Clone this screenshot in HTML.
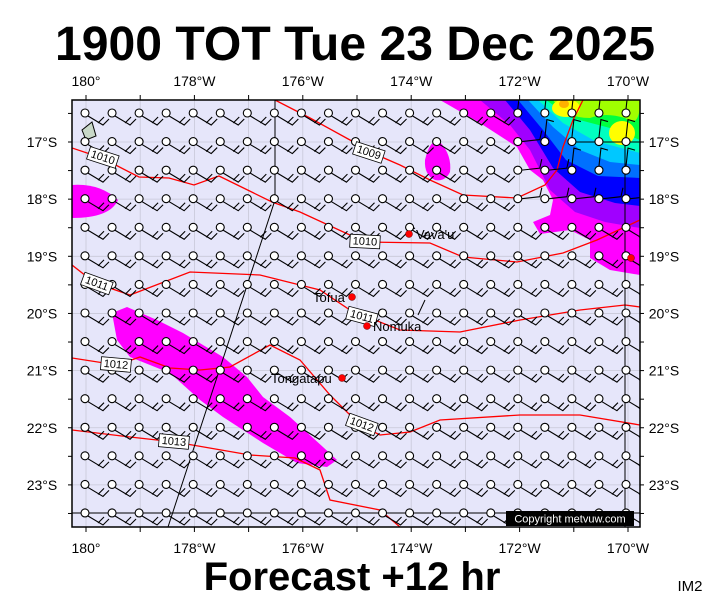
<!DOCTYPE html>
<html><head><meta charset="utf-8"><style>
html,body{margin:0;padding:0;background:#fff;}
svg{display:block;font-family:"Liberation Sans",sans-serif;}
</style></head><body>
<svg id="s" width="711" height="600" viewBox="0 0 711 600" xmlns="http://www.w3.org/2000/svg">
<text x="355" y="60" text-anchor="middle" font-size="48" font-weight="bold" textLength="600" lengthAdjust="spacingAndGlyphs">1900 TOT Tue 23 Dec 2025</text>
<text x="352" y="590" text-anchor="middle" font-size="40" font-weight="bold">Forecast +12 hr</text>
<text x="690" y="591" text-anchor="middle" font-size="15">IM2</text>
<defs><clipPath id="c"><rect x="72" y="100" width="568" height="427"/></clipPath></defs>
<rect x="72" y="100" width="568" height="427" fill="#e6e6fa"/>
<g id="grid" stroke="#c8c8d8" stroke-width="0.8"></g>
<g clip-path="url(#c)">
<path fill="#ff00ff" d="M72,185 Q100,183 118,200 Q110,218 72,218Z"/>
<path fill="#ff00ff" d="M425,160 Q430,138 440,142 Q452,155 450,172 Q445,182 435,180 Q424,175 425,160Z"/>
<path fill="#ff00ff" d="M112,313 L127,307 L157,320 L183,333 L223,357 L247,377 L263,397 L290,417 L323,447 L337,460 L327,467 L297,463 L263,443 L223,417 L200,400 L170,373 L130,357 L117,340Z"/>
<path fill="#ff00ff" d="M440,100 L480,123 L517,147 L530,170 L543,180 L553,200 L550,215 L533,222 L540,234 L570,230 L590,240 L590,258 L610,270 L640,275 L640,100Z"/>
<path fill="#a000ff" d="M480,100 L510,125 L530,150 L550,190 L575,212 L605,222 L640,228 L640,100Z"/>
<path fill="#0000ff" d="M505,100 L530,130 L553,168 L580,192 L615,203 L640,206 L640,100Z"/>
<path fill="#0070ff" d="M518,100 L543,130 L566,160 L598,176 L640,178 L640,100Z"/>
<path fill="#00c8ff" d="M528,100 L553,127 L580,150 L610,162 L640,165 L640,100Z"/>
<path fill="#00ffc0" d="M538,100 L563,123 L595,141 L640,153 L640,100Z"/>
<path fill="#00ff40" d="M546,100 L572,118 L610,128 L640,140 L640,100Z"/>
<path fill="#a0ff00" d="M553,100 Q565,118 590,118 Q605,112 625,118 Q640,130 640,100Z"/>
<ellipse cx="566" cy="108" rx="14" ry="9" fill="#ffff00"/>
<ellipse cx="622" cy="133" rx="13" ry="12" fill="#ffff00"/>
<ellipse cx="564" cy="104" rx="5" ry="4" fill="#ffb000"/>
<g fill="none" stroke="#f00" stroke-width="1.3">
<path d="M275,100 L310,118 L350,140 L370,152 L400,165 L430,180 L463,195 L517,198 L545,185 L557,170 L563,147 L573,120 L583,100"/>
<path d="M72,148 L102,158 L139,177 L169,178 L194,185 L219,176 L272,202 L300,212 L365,242 L430,243 L463,257 L517,262 L563,253 L597,240 L640,220"/>
<path d="M72,265 L95,283 L130,295 L190,272 L260,275 L320,290 L350,310 L400,330 L460,332 L520,320 L580,310 L625,305 L640,307"/>
<path d="M72,358 L117,365 L140,357 L170,368 L200,370 L230,367 L270,345 L300,360 L330,395 L360,425 L380,435 L410,432 L440,420 L520,415 L580,415 L640,425"/>
<path d="M72,430 L130,437 L175,442 L250,455 L295,458 L320,470 L330,500 L380,510 L400,527"/>
</g>
<g fill="none" stroke="#000" stroke-width="1">
<path d="M275,100 L275,200 L168,527"/>
<path d="M72,513 L640,513"/>
<path d="M571,142 L640,142"/>
<path d="M625,142 L625,527"/>
<path d="M82,130 L92,122 L96,136 L86,140Z" fill="#c8d8c8"/>
<path d="M407,232 L415,228 M425,300 L418,315"/>
</g>
<g id="barbs" fill="none" stroke="#000" stroke-width="1.1"></g>
<g font-size="11">
<g fill="#fff" stroke="#000" stroke-width="0.8">
<rect x="88" y="151" width="30" height="13" transform="rotate(18 103 157)"/>
<rect x="354" y="146" width="30" height="13" transform="rotate(18 369 152)"/>
<rect x="350" y="235" width="30" height="13" transform="rotate(3 365 241)"/>
<rect x="82" y="277" width="30" height="13" transform="rotate(20 97 283)"/>
<rect x="347" y="310" width="30" height="13" transform="rotate(15 362 316)"/>
<rect x="101" y="358" width="30" height="13" transform="rotate(5 116 364)"/>
<rect x="347" y="418" width="30" height="13" transform="rotate(20 362 424)"/>
<rect x="159" y="435" width="30" height="13" transform="rotate(5 174 441)"/>
</g>
<text x="103" y="161" text-anchor="middle" transform="rotate(18 103 157)">1010</text>
<text x="369" y="156" text-anchor="middle" transform="rotate(18 369 152)">1009</text>
<text x="365" y="245" text-anchor="middle" transform="rotate(3 365 241)">1010</text>
<text x="97" y="287" text-anchor="middle" transform="rotate(20 97 283)">1011</text>
<text x="362" y="320" text-anchor="middle" transform="rotate(15 362 316)">1011</text>
<text x="116" y="368" text-anchor="middle" transform="rotate(5 116 364)">1012</text>
<text x="362" y="428" text-anchor="middle" transform="rotate(20 362 424)">1012</text>
<text x="174" y="445" text-anchor="middle" transform="rotate(5 174 441)">1013</text>
</g>
<g fill="#f00" stroke="#600" stroke-width="0.5">
<circle cx="409" cy="234" r="3.5"/><circle cx="352" cy="297" r="3.5"/><circle cx="367" cy="326" r="3.5"/><circle cx="342" cy="378" r="3.5"/><circle cx="631" cy="258" r="3.5"/>
</g>
<g font-size="13">
<text x="416" y="239">Vava'u</text>
<text x="313" y="302">Tofua</text>
<text x="373" y="331">Nomuka</text>
<text x="271" y="383">Tongatapu</text>
</g>
<rect x="506" y="511" width="128" height="15" fill="#000"/>
<text x="570" y="522.5" text-anchor="middle" font-size="11" fill="#fff">Copyright metvuw.com</text>
</g>
<rect x="72" y="100" width="568" height="427" fill="none" stroke="#000" stroke-width="1.5"/>
<g id="ticks" stroke="#000" stroke-width="1"></g>
<g id="labs" font-size="14"></g>
</svg>
<script>
var NS="http://www.w3.org/2000/svg";
function el(p,t,a,txt){var e=document.createElementNS(NS,t);for(var k in a)e.setAttribute(k,a[k]);if(txt)e.textContent=txt;document.getElementById(p).appendChild(e);}
var lonX=function(k){return 86+54.2*k}, latY=function(k){return 142+57.15*(k)};
for(var k=0;k<=10;k++){el("grid","line",{x1:lonX(k),y1:100,x2:lonX(k),y2:527});el("ticks","line",{x1:lonX(k),y1:95,x2:lonX(k),y2:100});el("ticks","line",{x1:lonX(k),y1:527,x2:lonX(k),y2:532});}
for(var k=-0.5;k<=6.5;k+=0.5){el("ticks","line",{x1:68,y1:latY(k),x2:72,y2:latY(k)});el("ticks","line",{x1:640,y1:latY(k),x2:644,y2:latY(k)});}
for(var k=0;k<=6;k++){el("grid","line",{x1:72,y1:latY(k),x2:640,y2:latY(k)});
 var t=(17+k)+"°S";el("labs","text",{x:42,y:latY(k)+5,"text-anchor":"middle"},t);el("labs","text",{x:664,y:latY(k)+5,"text-anchor":"middle"},t);}
var L=["180°","178°W","176°W","174°W","172°W","170°W"];
for(var i=0;i<6;i++){var x=lonX(2*i);el("labs","text",{x:x,y:86,"text-anchor":"middle"},L[i]);el("labs","text",{x:x,y:553,"text-anchor":"middle"},L[i]);}
for(var r=0;r<15;r++)for(var c=0;c<21;c++){
 var x=85+27.05*c,y=113+28.57*r,d;
 var up=(x>=515&&y<=120)||(x>=540&&y<=150)||(x>=570&&y<=180);
 var mid=!up&&x>=510&&y<=210;
 if(up) d="M"+x+","+(y-4)+" l2,-18 l7,2";
 else if(mid) d="M"+(x+4)+","+y+" l18,-2 l2,-9";
 else d="M"+(x+3)+","+(y+3)+" l15,9 l6,-6 M"+(x+13)+","+(y+10)+" l6,-6";
 el("barbs","path",{d:d});
 el("barbs","circle",{cx:x,cy:y,r:4,fill:"#fff"});
}
</script>
</body></html>
